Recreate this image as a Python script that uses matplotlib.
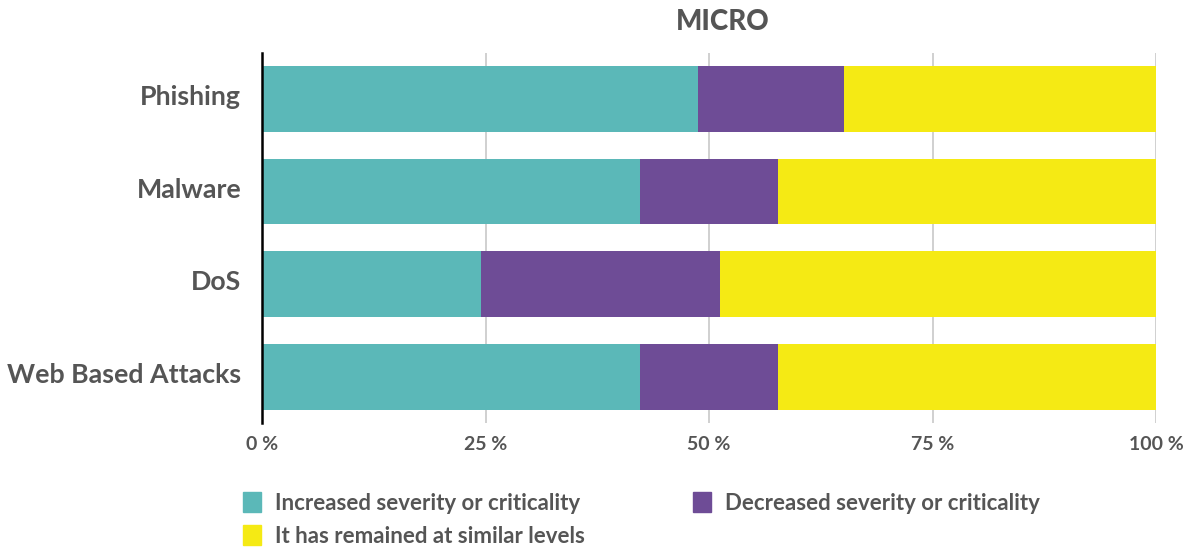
import matplotlib
matplotlib.use("Agg")
import matplotlib.pyplot as plt
from matplotlib.patches import Patch
from matplotlib.transforms import ScaledTranslation

plt.rcParams['font.family'] = ['Lato', 'DejaVu Sans']

categories = ["Phishing", "Malware", "DoS", "Web Based Attacks"]
increased = [48.8, 42.3, 24.5, 42.3]
decreased = [16.3, 15.4, 26.7, 15.4]
similar = [34.9, 42.3, 48.8, 42.3]
series_labels = ["Increased severity or criticality",
                 "Decreased severity or criticality",
                 "It has remained at similar levels"]
tick_values = [0, 25, 50, 75, 100]
tick_labels = ["0 %", "25 %", "50 %", "75 %", "100 %"]
title = "MICRO"

colors = ["#5BB8B8", "#6E4C96", "#F5EA14"]
text_color = "#555555"

fig = plt.figure(figsize=(11.9, 5.49), dpi=100)
ax = fig.add_axes([0.2202, 0.2290, 0.7513, 0.6752])

y = list(range(len(categories)))
left2 = [a + b for a, b in zip(increased, decreased)]
ax.barh(y, increased, height=0.71, color=colors[0], zorder=2)
ax.barh(y, decreased, left=increased, height=0.71, color=colors[1], zorder=2)
ax.barh(y, similar, left=left2, height=0.71, color=colors[2], zorder=2)

ax.set_xlim(0, 100)
ax.set_ylim(3.5, -0.5)
ax.set_yticks(y)
ax.set_yticklabels(categories, fontsize=19.3, fontweight='bold', color=text_color)
ax.set_xticks(tick_values)
ax.set_xticklabels(tick_labels, fontsize=14, fontweight='bold', color=text_color)
ax.tick_params(axis='both', length=0)
ax.tick_params(axis='y', pad=15)
ax.tick_params(axis='x', pad=9)

# nudge the category labels slightly upward
shift = ScaledTranslation(0, 4 / 100, fig.dpi_scale_trans)
for lbl in ax.get_yticklabels():
    lbl.set_transform(lbl.get_transform() + shift)

ax.grid(axis='x', color='#C8C8C8', linewidth=1.2, zorder=0)
for s in ['top', 'right', 'bottom']:
    ax.spines[s].set_visible(False)
ax.spines['left'].set_color('black')
ax.spines['left'].set_linewidth(1.8)
ax.spines['left'].set_zorder(3)

ax.set_title(title, fontsize=20, fontweight='black', color=text_color, pad=16, x=0.515)

handles = [Patch(color=c) for c in colors]
order = [0, 2, 1]
fig.legend([handles[i] for i in order], [series_labels[i] for i in order],
           ncol=2, loc='upper left', bbox_to_anchor=(0.187, 0.14),
           frameon=False, handlelength=0.81, handleheight=1.0,
           handletextpad=0.63, columnspacing=4.9, labelspacing=0.53,
           labelcolor=text_color, prop={'weight': 'bold', 'size': 16})

fig.savefig("out.png", dpi=100)
